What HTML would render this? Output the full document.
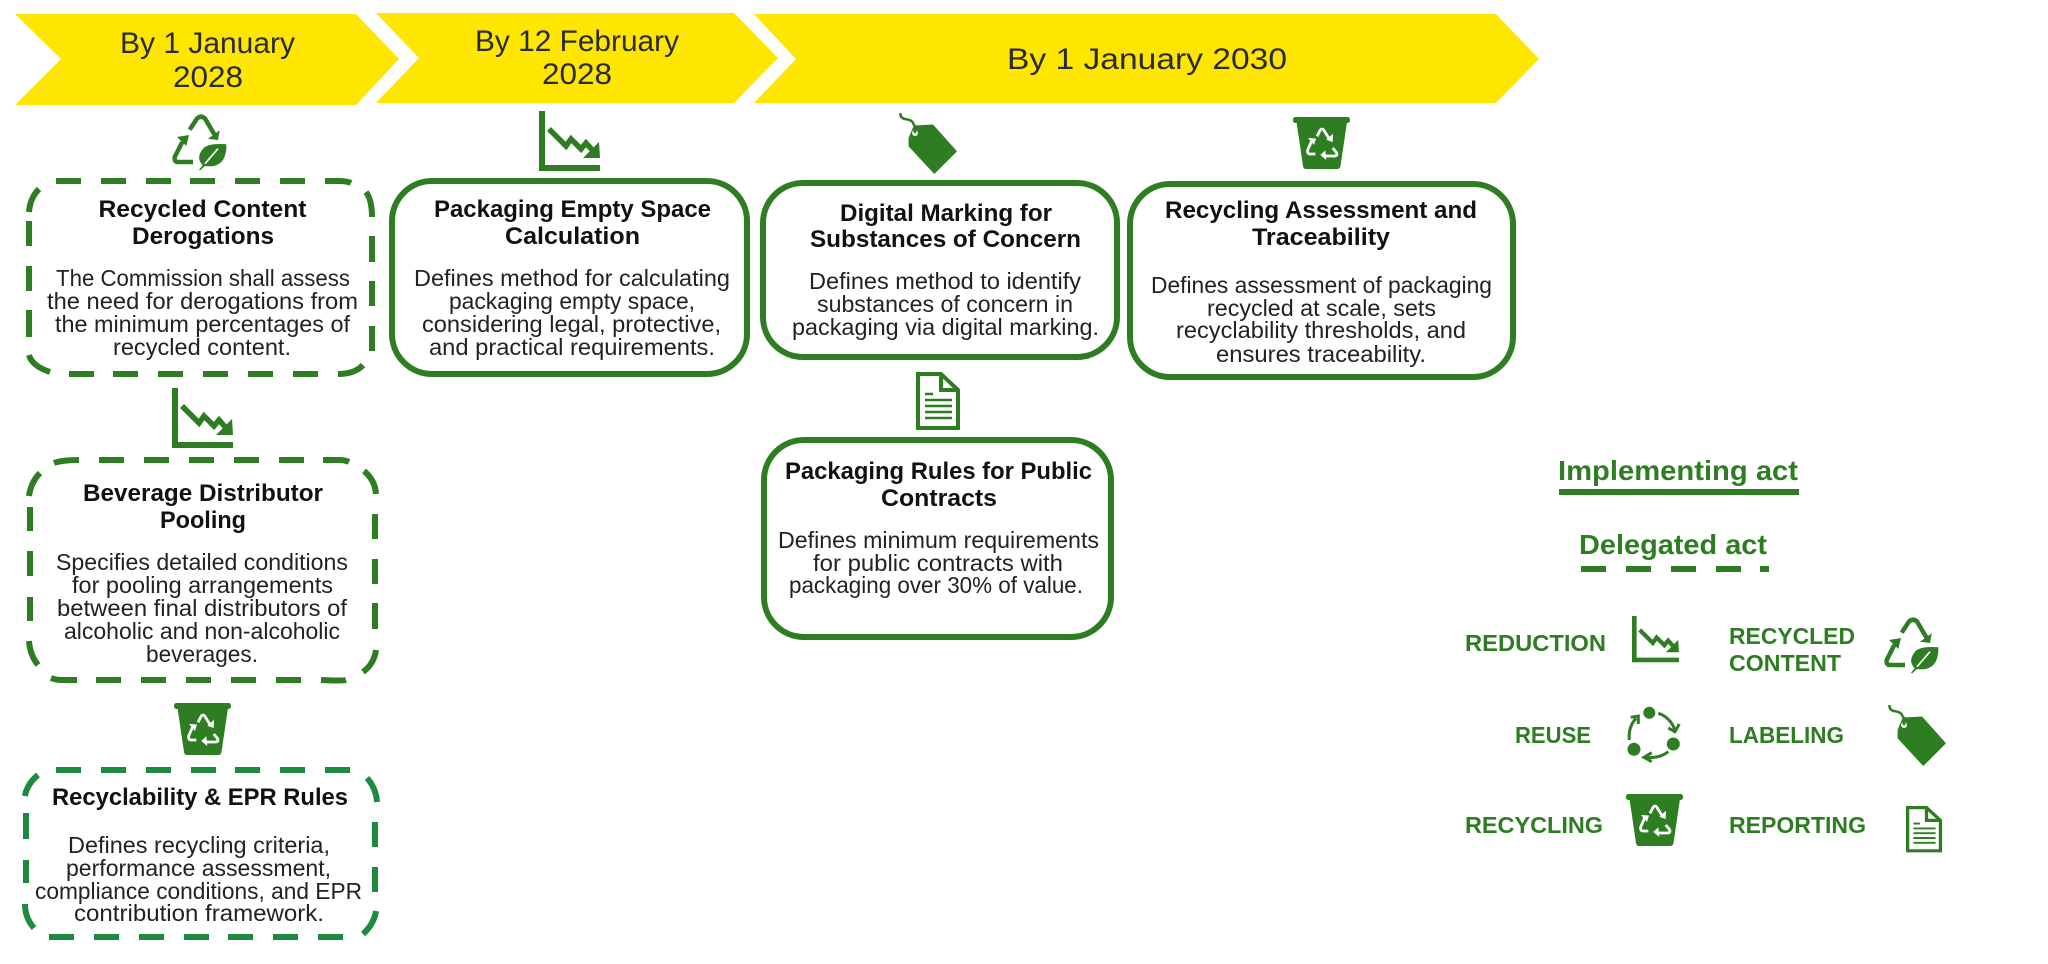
<!DOCTYPE html>
<html lang="en"><head><meta charset="utf-8"><title>Packaging acts timeline</title>
<style>
html,body{margin:0;padding:0;background:#fff;width:2048px;height:964px;overflow:hidden}
svg{display:block}
text{font-family:"Liberation Sans",sans-serif}
.c{font-size:30px;fill:#2a2a33}
.t{font-size:24px;font-weight:bold;fill:#111}
.b{font-size:23px;fill:#222}
.l{font-size:23px;font-weight:bold;fill:#2e7d23}
.h{font-size:28px;font-weight:bold;fill:#2e7d23}
.box{fill:#fff;stroke:#2e7d23;stroke-width:6}
.d{fill:none;stroke:#2e7d23;stroke-width:6}
.d2{fill:none;stroke:#1e8a40;stroke-width:6}
</style></head><body>
<svg width="2048" height="964" viewBox="0 0 2048 964" xmlns="http://www.w3.org/2000/svg">
<defs>
<g id="reduction">
<path d="M3 0V57H61" fill="none" stroke="#2e7d23" stroke-width="6"/>
<path d="M10 18L27 35L32 28L42 38L47 32L56 42" fill="none" stroke="#2e7d23" stroke-width="5.5"/>
<path d="M60 31L61 47H44Z" fill="#2e7d23"/>
</g>
<g id="recycled">
<g fill="none" stroke="#2e7d23" stroke-width="4.5">
<path d="M17.7 14.7L25 3.5Q29 0 33 3.5L42.7 20"/>
<path d="M10.3 27L2.7 42Q2 47 6 47H21"/>
</g>
<path d="M36 23.7L46 25L47.7 15.3Z M5 22L17 20L14.3 31Z" fill="#2e7d23"/>
<path d="M54.3 29.3Q36 28 31 33.7Q25 41 28.3 47Q29 49 31 50L27 54.7L28 55.5L33 51Q45 53 51 45Q55 38 54.3 29.3Z" fill="#2e7d23"/>
<path d="M46 33.7L33 48.7" stroke="#fff" stroke-width="1.6"/>
</g>
<g id="tag">
<path d="M0.5 0Q0 5 5 6Q12 7 13 10Q14 13 17 14" fill="none" stroke="#2e7d23" stroke-width="2.5"/>
<path d="M14.3 13.3L32.7 12.3L56 38.3L34.3 60L9.3 33V25Z" fill="#2e7d23" stroke="#2e7d23" stroke-width="1.5" stroke-linejoin="round"/>
<circle cx="15" cy="20" r="3" fill="#fff"/><circle cx="15" cy="18.5" r="1.6" fill="#2e7d23"/>
</g>
<g id="bin">
<rect x="0" y="0" width="57" height="6" rx="2.5" fill="#2e7d23"/>
<path d="M3.5 5H54L47.5 49Q47 52 44 52H13Q10.5 52 10 49Z" fill="#2e7d23"/>
<g fill="none" stroke="#fff" stroke-width="2.8">
<path d="M24 19.3L27.3 13Q29 11 30.7 13L36.7 22.7"/>
<path d="M19 23L14.7 33Q14 37 17.3 37H22.3"/>
<path d="M39.7 31L43.5 35.5Q45 39 41 39H31"/>
</g>
<path d="M33.3 22.7L39.7 25L40 16.7Z M15 21L23 21.5L21 28Z M32.3 33.3L27.3 38L33.3 43Z" fill="#fff"/>
</g>
<g id="doc">
<path d="M2 2H25L42 18V56H2Z M25 2V18H42" fill="none" stroke="#2e7d23" stroke-width="4"/>
<path d="M9 22H17M9 28H36M9 34H36M9 40H36M9 46H36" stroke="#2e7d23" stroke-width="2.4"/>
</g>
<g id="reuse">
<circle cx="21.3" cy="5.7" r="6" fill="#2e7d23"/><circle cx="45.3" cy="37" r="6.5" fill="#2e7d23"/><circle cx="6" cy="42.3" r="6.5" fill="#2e7d23"/>
<g fill="none" stroke="#2e7d23" stroke-width="3">
<path d="M30.3 6.3Q42 10 47 23"/><path d="M40.3 44.7Q31 52 17 50.3"/><path d="M1.3 33Q0 20 8 11.3"/>
<path d="M40.3 21L47 24.7L51.3 17"/><path d="M23.7 45.7L16 50.3L23.7 54.7"/><path d="M2.7 10.3L10.3 9V17"/>
</g>
</g>
</defs>

<!-- chevrons -->
<polygon points="15,14 356,14 399,59 356,105 15,105 61,59" fill="#ffe600"/>
<polygon points="376,13 734,13 778,58 734,103 376,103 419,58" fill="#ffe600"/>
<polygon points="754,14 1496,14 1539,59 1496,103 754,103 796,59" fill="#ffe600"/>
<text class="c" x="120" y="53" textLength="175" lengthAdjust="spacingAndGlyphs">By 1 January</text>
<text class="c" x="173" y="87" textLength="70" lengthAdjust="spacingAndGlyphs">2028</text>
<text class="c" x="475" y="51" textLength="204" lengthAdjust="spacingAndGlyphs">By 12 February</text>
<text class="c" x="542" y="84" textLength="70" lengthAdjust="spacingAndGlyphs">2028</text>
<text class="c" x="1007" y="69" textLength="280" lengthAdjust="spacingAndGlyphs">By 1 January 2030</text>

<!-- solid boxes -->
<rect class="box" x="392" y="181" width="355" height="193" rx="40"/>
<rect class="box" x="763" y="183" width="354" height="174" rx="40"/>
<rect class="box" x="1130" y="184" width="383" height="193" rx="40"/>
<rect class="box" x="764" y="440" width="347" height="197" rx="40"/>

<!-- dashed box 1 -->
<path class="d" d="M56 181h25M101 181h25M146 181h25M190 181h25M235 181h25M280 181h25M325 181H338Q347 181 351 183
M366 192Q372 200 372 217M372 236V262M372 281V306M372 326V351M363 365Q355 374 338 374
M293 374h25M248 374h25M203 374h25M158 374h25M113 374h25M69 374h25
M50 372Q32 366 29 355M29 337V310M29 291V266M29 246V221M29 212Q30 198 39 189"/>
<!-- dashed box 2 -->
<path class="d" d="M54 463Q62 460 79 460M99 460h25M144 460h25M189 460h25M234 460h25M279 460h25M323 460H339Q345 460 349 462
M364 471Q375 480 376 494M375 514V539M375 559V584M375 603V629M376 650Q374 664 363 672
M346 680Q342 681 321 680M276 680h25M231 680h25M186 680h25M141 680h25M96 680h25M77 680H62Q56 680 51 678
M38 665Q30 655 29 641M30 621V597M30 576V551M30 531V507M29 496Q31 482 40 473"/>
<!-- dashed box 3 -->
<path class="d2" d="M56 770h25M101 770h25M146 770h25M191 770h25M235 770h25M280 770h25M325 770h25
M367 778Q376 788 377 802M375 822V847M375 867V892M376 911Q374 924 363 934
M318 937h25M273 937h25M228 937h25M184 937h25M139 937h25M94 937h25M49 937h25
M34 928Q25 918 25 904M26 883V860M26 839V813M25 796Q27 784 38 775"/>

<!-- box 1 -->
<text class="t" x="98.5" y="217" textLength="208" lengthAdjust="spacingAndGlyphs">Recycled Content</text>
<text class="t" x="132" y="244" textLength="142" lengthAdjust="spacingAndGlyphs">Derogations</text>
<text class="b" x="56" y="286" textLength="294" lengthAdjust="spacingAndGlyphs">The Commission shall assess</text>
<text class="b" x="47" y="309" textLength="311" lengthAdjust="spacingAndGlyphs">the need for derogations from</text>
<text class="b" x="55" y="332" textLength="295" lengthAdjust="spacingAndGlyphs">the minimum percentages of</text>
<text class="b" x="113" y="355" textLength="178" lengthAdjust="spacingAndGlyphs">recycled content.</text>

<!-- box 2 -->
<text class="t" x="434" y="217" textLength="277" lengthAdjust="spacingAndGlyphs">Packaging Empty Space</text>
<text class="t" x="505" y="244" textLength="135" lengthAdjust="spacingAndGlyphs">Calculation</text>
<text class="b" x="414" y="286" textLength="316" lengthAdjust="spacingAndGlyphs">Defines method for calculating</text>
<text class="b" x="449" y="309" textLength="246" lengthAdjust="spacingAndGlyphs">packaging empty space,</text>
<text class="b" x="422" y="332" textLength="299" lengthAdjust="spacingAndGlyphs">considering legal, protective,</text>
<text class="b" x="429" y="355" textLength="286" lengthAdjust="spacingAndGlyphs">and practical requirements.</text>

<!-- box 3 -->
<text class="t" x="840" y="221" textLength="212" lengthAdjust="spacingAndGlyphs">Digital Marking for</text>
<text class="t" x="810" y="247" textLength="271" lengthAdjust="spacingAndGlyphs">Substances of Concern</text>
<text class="b" x="809" y="289" textLength="272" lengthAdjust="spacingAndGlyphs">Defines method to identify</text>
<text class="b" x="817" y="312" textLength="256" lengthAdjust="spacingAndGlyphs">substances of concern in</text>
<text class="b" x="792" y="335" textLength="307" lengthAdjust="spacingAndGlyphs">packaging via digital marking.</text>

<!-- box 4 -->
<text class="t" x="1165" y="218" textLength="312" lengthAdjust="spacingAndGlyphs">Recycling Assessment and</text>
<text class="t" x="1252" y="245" textLength="138" lengthAdjust="spacingAndGlyphs">Traceability</text>
<text class="b" x="1151" y="293" textLength="341" lengthAdjust="spacingAndGlyphs">Defines assessment of packaging</text>
<text class="b" x="1207" y="316" textLength="229" lengthAdjust="spacingAndGlyphs">recycled at scale, sets</text>
<text class="b" x="1176" y="338" textLength="290" lengthAdjust="spacingAndGlyphs">recyclability thresholds, and</text>
<text class="b" x="1216" y="362" textLength="210" lengthAdjust="spacingAndGlyphs">ensures traceability.</text>

<!-- box 5 -->
<text class="t" x="785" y="479" textLength="307" lengthAdjust="spacingAndGlyphs">Packaging Rules for Public</text>
<text class="t" x="881" y="506" textLength="116" lengthAdjust="spacingAndGlyphs">Contracts</text>
<text class="b" x="778" y="548" textLength="321" lengthAdjust="spacingAndGlyphs">Defines minimum requirements</text>
<text class="b" x="813" y="571" textLength="250" lengthAdjust="spacingAndGlyphs">for public contracts with</text>
<text class="b" x="789" y="593" textLength="294" lengthAdjust="spacingAndGlyphs">packaging over 30% of value.</text>

<!-- beverage -->
<text class="t" x="83" y="501" textLength="240" lengthAdjust="spacingAndGlyphs">Beverage Distributor</text>
<text class="t" x="160" y="528" textLength="86" lengthAdjust="spacingAndGlyphs">Pooling</text>
<text class="b" x="56" y="570" textLength="292" lengthAdjust="spacingAndGlyphs">Specifies detailed conditions</text>
<text class="b" x="72" y="593" textLength="261" lengthAdjust="spacingAndGlyphs">for pooling arrangements</text>
<text class="b" x="57" y="616" textLength="290" lengthAdjust="spacingAndGlyphs">between final distributors of</text>
<text class="b" x="64" y="639" textLength="276" lengthAdjust="spacingAndGlyphs">alcoholic and non-alcoholic</text>
<text class="b" x="146" y="662" textLength="112" lengthAdjust="spacingAndGlyphs">beverages.</text>

<!-- recyclability -->
<text class="t" x="52" y="805" textLength="296" lengthAdjust="spacingAndGlyphs">Recyclability &amp; EPR Rules</text>
<text class="b" x="68" y="853" textLength="262" lengthAdjust="spacingAndGlyphs">Defines recycling criteria,</text>
<text class="b" x="66" y="876" textLength="265" lengthAdjust="spacingAndGlyphs">performance assessment,</text>
<text class="b" x="35" y="899" textLength="327" lengthAdjust="spacingAndGlyphs">compliance conditions, and EPR</text>
<text class="b" x="74" y="921" textLength="250" lengthAdjust="spacingAndGlyphs">contribution framework.</text>

<!-- icons in diagram -->
<use href="#recycled" transform="translate(172,115)"/>
<use href="#reduction" transform="translate(539,111)"/>
<use href="#tag" transform="translate(900,113)"/>
<use href="#bin" transform="translate(1293,117)"/>
<use href="#doc" transform="translate(916,372)"/>
<use href="#reduction" transform="translate(172,388)"/>
<use href="#bin" transform="translate(174,703)"/>

<!-- legend -->
<text class="h" x="1558" y="480" textLength="240" lengthAdjust="spacingAndGlyphs">Implementing act</text>
<rect x="1559" y="489" width="240" height="6" fill="#2e7d23"/>
<text class="h" x="1579" y="554" textLength="188" lengthAdjust="spacingAndGlyphs">Delegated act</text>
<g fill="#2e7d23"><rect x="1581" y="566" width="25" height="6"/><rect x="1626" y="566" width="25" height="6"/><rect x="1671" y="566" width="25" height="6"/><rect x="1716" y="566" width="25" height="6"/><rect x="1760" y="566" width="9" height="6"/></g>

<text class="l" x="1465" y="651" textLength="141" lengthAdjust="spacingAndGlyphs">REDUCTION</text>
<text class="l" x="1729" y="644" textLength="126" lengthAdjust="spacingAndGlyphs">RECYCLED</text>
<text class="l" x="1729" y="671" textLength="112" lengthAdjust="spacingAndGlyphs">CONTENT</text>
<text class="l" x="1515" y="743" textLength="76" lengthAdjust="spacingAndGlyphs">REUSE</text>
<text class="l" x="1729" y="743" textLength="115" lengthAdjust="spacingAndGlyphs">LABELING</text>
<text class="l" x="1465" y="833" textLength="138" lengthAdjust="spacingAndGlyphs">RECYCLING</text>
<text class="l" x="1729" y="833" textLength="137" lengthAdjust="spacingAndGlyphs">REPORTING</text>

<use href="#reduction" transform="translate(1632,616) scale(.77)"/>
<use href="#recycled" transform="translate(1884,618)"/>
<use href="#reuse" transform="translate(1628,707)"/>
<use href="#tag" transform="translate(1889,705)"/>
<use href="#bin" transform="translate(1626,794)"/>
<use href="#doc" transform="translate(1906,806) scale(.82,.8)"/>
</svg>
</body></html>
